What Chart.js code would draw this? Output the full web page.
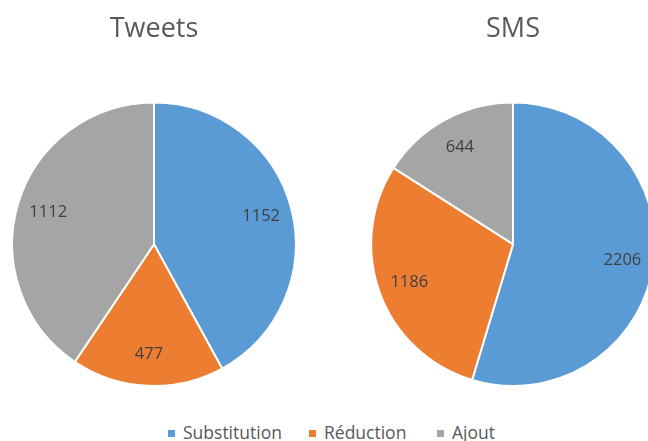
<!DOCTYPE html>
<html>
<head>
<meta charset="utf-8">
<script src="https://cdn.jsdelivr.net/npm/chart.js@4"></script>
<style>
  html, body { margin: 0; padding: 0; background: #fff; width: 648px; height: 441px; overflow: hidden; position: relative; }
  .pie { position: absolute; top: 0; }
  #legend { position: absolute; top: 421px; left: 0; width: 648px; height: 22px; font-family: "Open Sans", sans-serif; font-size: 17.5px; color: #595959; }
  .item { position: absolute; top: 0; line-height: 22px; white-space: nowrap; }
  .sw { display: inline-block; width: 7px; height: 7px; margin-right: 8px; vertical-align: middle; position: relative; top: -1px; }
</style>
</head>
<body>
<canvas id="c1" class="pie" width="308" height="387" style="left:0px"></canvas>
<canvas id="c2" class="pie" width="308" height="387" style="left:359px"></canvas>
<div id="legend"></div>
<script>
const categories = ["Substitution", "Réduction", "Ajout"];
const tweetsValues = [1152, 477, 1112];
const smsValues = [2206, 1186, 644];
const chartTitles = ["Tweets", "SMS"];
const colors = ["#5B9BD5", "#ED7D31", "#A5A5A5"];

const labelPlugin = {
  id: 'sliceLabels',
  afterDatasetsDraw(chart) {
    const ctx = chart.ctx;
    const meta = chart.getDatasetMeta(0);
    const data = chart.data.datasets[0].data;
    ctx.save();
    ctx.font = '16.5px "Open Sans"';
    ctx.fillStyle = '#404040';
    ctx.textAlign = 'center';
    ctx.textBaseline = 'middle';
    meta.data.forEach((arc, i) => {
      const p = arc.getProps(['x', 'y', 'startAngle', 'endAngle', 'outerRadius'], true);
      const mid = (p.startAngle + p.endAngle) / 2;
      const r = p.outerRadius * 0.78;
      ctx.fillText(String(data[i]), p.x + Math.cos(mid) * r, p.y + Math.sin(mid) * r);
    });
    ctx.restore();
  }
};

function makePie(id, title, values) {
  return new Chart(document.getElementById(id), {
    type: 'pie',
    data: {
      labels: categories,
      datasets: [{
        data: values,
        backgroundColor: colors,
        borderColor: '#ffffff',
        borderWidth: 2,
        hoverOffset: 0
      }]
    },
    options: {
      responsive: false,
      animation: false,
      events: [],
      layout: { padding: 0 },
      plugins: {
        legend: { display: false },
        tooltip: { enabled: false },
        title: {
          display: true,
          text: title,
          color: '#595959',
          font: { family: 'Open Sans', size: 27, weight: 'normal', lineHeight: 1.2 },
          padding: { top: 13, bottom: 56 }
        }
      }
    },
    plugins: [labelPlugin]
  });
}

makePie('c1', chartTitles[0], tweetsValues);
makePie('c2', chartTitles[1], smsValues);

const legendLefts = [168, 309, 437];
const legend = document.getElementById('legend');
categories.forEach((c, i) => {
  const it = document.createElement('span');
  it.className = 'item';
  it.style.left = legendLefts[i] + 'px';
  const sw = document.createElement('span');
  sw.className = 'sw';
  sw.style.background = colors[i];
  it.appendChild(sw);
  it.appendChild(document.createTextNode(c));
  legend.appendChild(it);
});
</script>
</body>
</html>
